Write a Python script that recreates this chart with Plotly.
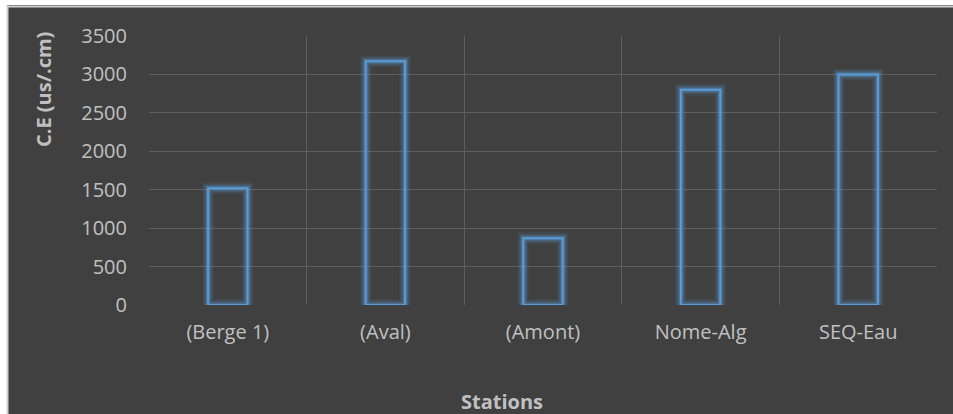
import plotly.graph_objects as go

categories = ["(Berge 1)", "(Aval)", "(Amont)", "Nome-Alg", "SEQ-Eau"]
values = [1520, 3170, 870, 2800, 3000]
y_ticks = [0, 500, 1000, 1500, 2000, 2500, 3000, 3500]

W, H = 953, 414
L, R, T, B = 149, 16, 36, 109

blue = "#5B9BD5"
bg = "#404040"
grid = "#5E5E5E"
txt = "#C0C0C0"
font = "Open Sans"
fs = 20

fig = go.Figure()
# glow layers
for lw, a in [(12, 0.08), (9, 0.12), (6.5, 0.18), (4.5, 0.28)]:
    fig.add_trace(go.Bar(
        x=categories, y=values, width=0.25,
        marker=dict(color="rgba(0,0,0,0)", line=dict(color=f"rgba(91,155,213,{a})", width=lw)),
        hoverinfo="skip", showlegend=False))
fig.add_trace(go.Bar(
    x=categories, y=values, width=0.25,
    marker=dict(color="rgba(0,0,0,0)", line=dict(color=blue, width=2)),
    showlegend=False))

fig.update_layout(
    width=W, height=H,
    margin=dict(l=L, r=R, t=T, b=B, pad=0),
    paper_bgcolor=bg, plot_bgcolor=bg,
    barmode="overlay",
    font=dict(family=font, size=fs, color=txt),
    xaxis=dict(type="category", tickson="boundaries", showgrid=True, gridcolor=grid,
               gridwidth=1.3, showline=False, ticks="", zeroline=False,
               tickfont=dict(size=fs, color=txt), ticklabelstandoff=13),
    yaxis=dict(range=[0, 3500], tickvals=y_ticks, showgrid=True, gridcolor=grid,
               gridwidth=1.3, zeroline=False, showline=False, ticks="",
               tickfont=dict(size=fs, color=txt), ticklabelstandoff=21),
    showlegend=False,
)

shapes = [
    # white outer strips
    dict(type="rect", xref="paper", yref="paper", xsizemode="pixel", ysizemode="pixel",
         xanchor=0, yanchor=0, x0=-L - 2, x1=-L + 7, y0=-B - 5, y1=H - B + 5,
         fillcolor="white", line_width=0, layer="above"),
    dict(type="rect", xref="paper", yref="paper", xsizemode="pixel", ysizemode="pixel",
         xanchor=0, yanchor=0, x0=-L - 2, x1=W, y0=H - B - 5, y1=H - B + 5,
         fillcolor="white", line_width=0, layer="above"),
    # light border lines
    dict(type="line", xref="paper", yref="paper", xsizemode="pixel", ysizemode="pixel",
         xanchor=0, yanchor=0, x0=-L + 7.5, x1=-L + 7.5, y0=-B - 5, y1=H - B - 5.5,
         line=dict(color="#D0D0D0", width=2), layer="above"),
    dict(type="line", xref="paper", yref="paper", xsizemode="pixel", ysizemode="pixel",
         xanchor=0, yanchor=0, x0=-L + 7, x1=W, y0=H - B - 6.5, y1=H - B - 6.5,
         line=dict(color="#D0D0D0", width=2), layer="above"),
]
fig.update_layout(shapes=shapes)

fig.add_annotation(text="<b>C.E (us/.cm)</b>", textangle=-90, xref="paper", yref="paper",
                   x=(43 - L) / (W - L - R), y=(H - B - 90) / (H - T - B),
                   xanchor="center", yanchor="middle", showarrow=False,
                   font=dict(family=font, size=fs, color=txt))
fig.add_annotation(text="<b>Stations</b>", xref="paper", yref="paper",
                   x=(502 - L) / (W - L - R), y=(H - B - 401) / (H - T - B),
                   xanchor="center", yanchor="middle", showarrow=False,
                   font=dict(family=font, size=fs, color=txt))

fig.write_html("out.html")
